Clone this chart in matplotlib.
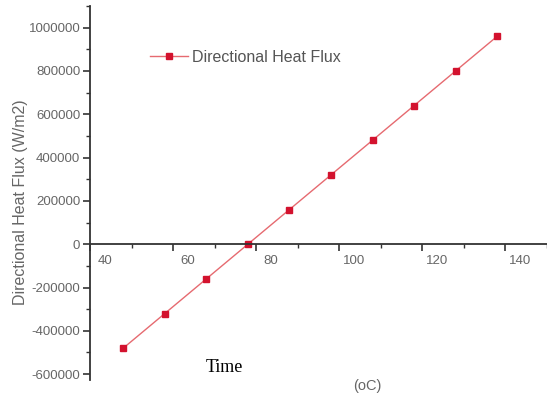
"""Directional heat flux against temperature, drawn in the Origin style."""

import matplotlib

matplotlib.use("Agg")
import matplotlib.pyplot as plt
import matplotlib.transforms as mtransforms
from matplotlib.ticker import MultipleLocator

temperature = [48, 58, 68, 78, 88, 98, 108, 118, 128, 138]
heat_flux = [-480000, -320000, -160000, 0, 160000, 320000, 480000, 640000, 800000, 960000]
x_ticks = [40, 60, 80, 100, 120, 140]
y_ticks = [-600000, -400000, -200000, 0, 200000, 400000, 600000, 800000, 1000000]

plt.rcParams["font.family"] = ["Liberation Sans", "DejaVu Sans"]

fig = plt.figure(figsize=(5.47, 3.98), dpi=100)
ax = fig.add_axes([90 / 547, 18 / 398, 457 / 547, 374 / 398])

ax.plot(temperature, heat_flux, color="#e66a70", lw=1.0, marker="s", ms=5,
        mfc="#d3122e", mec="#d3122e", label="Directional Heat Flux")

ax.set_xlim(40, 150)
ax.set_ylim(-627000, 1100000)

# axis frame: left spine plus an x axis sitting on y = 0
for side in ("top", "right"):
    ax.spines[side].set_visible(False)
ax.spines["bottom"].set_position(("data", 0))
for side in ("left", "bottom"):
    ax.spines[side].set_color("#333333")
    ax.spines[side].set_linewidth(1.3)

ax.set_xticks(x_ticks)
ax.set_yticks(y_ticks)
ax.set_yticklabels([str(v) for v in y_ticks])
ax.xaxis.set_minor_locator(MultipleLocator(10))
ax.yaxis.set_minor_locator(MultipleLocator(100000))
ax.tick_params(axis="both", which="major", direction="out", length=5, width=1.2,
               color="#333333", labelsize=9.5, labelcolor="#666666")
ax.tick_params(axis="both", which="minor", direction="out", length=3, width=1.0,
               color="#333333")
ax.tick_params(axis="y", which="major", pad=2)
ax.tick_params(axis="x", which="major", pad=3)

# x labels sit a little right of their ticks
shift = mtransforms.ScaledTranslation(15 / 100, 0, fig.dpi_scale_trans)
for lbl in ax.get_xticklabels():
    lbl.set_transform(lbl.get_transform() + shift)

ax.set_ylabel("Directional Heat Flux (W/m2)", fontsize=11.5, color="#666666")
ax.yaxis.set_label_coords(-62 / 457, (398 - 202 - 18) / 374)

leg = ax.legend(loc="upper left", bbox_to_anchor=(60 / 457, (398 - 50 - 18) / 374),
                frameon=False, fontsize=11.5, handlelength=2.4, handletextpad=0.25,
                borderaxespad=0, borderpad=0)
for txt in leg.get_texts():
    txt.set_color("#555555")

fig.text(224 / 547, 1 - 368 / 398, "Time", family="Liberation Serif", fontsize=13,
         ha="center", va="center", color="black")
fig.text(367 / 547, 1 - 386 / 398, "(oC)", fontsize=10.5, ha="center", va="center",
         color="#666666")

fig.savefig("out.png", dpi=100)
